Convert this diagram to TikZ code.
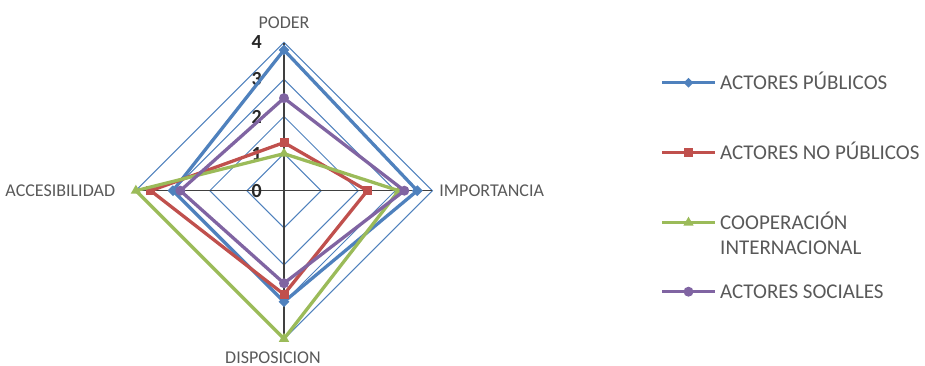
\documentclass[tikz,border=0pt]{standalone}
\usepackage{fontspec}
\setmainfont{Carlito}
\usetikzlibrary{positioning, shapes.geometric}
\definecolor{publicos}{HTML}{4F81BD}
\definecolor{nopublicos}{HTML}{C0504D}
\definecolor{cooperacion}{HTML}{9BBB59}
\definecolor{sociales}{HTML}{8064A2}
\definecolor{labelgray}{HTML}{595959}
\tikzset{
grid/.style={
	draw=publicos,
	line width=1pt,
},
spoke/.style={
	draw=black!75,
	line width=1.1pt,
},
serie/.style={
	line width=3.3pt,
	line join=round,
},
PUB/.style={
	draw=publicos,
},
NOPUB/.style={
	draw=nopublicos,
},
COOP/.style={
	draw=cooperacion,
},
SOC/.style={
	draw=sociales,
},
pubmark/.style={
	diamond,
	fill=publicos,
	inner sep=0pt,
	minimum size=11pt,
},
nopubmark/.style={
	rectangle,
	fill=nopublicos,
	inner sep=0pt,
	minimum size=9pt,
},
coopmark/.style={
	regular polygon,
	regular polygon sides=3,
	fill=cooperacion,
	inner sep=0pt,
	minimum size=12pt,
},
socmark/.style={
	circle,
	fill=sociales,
	inner sep=0pt,
	minimum size=10pt,
},
ticklabel/.style={
	font=\bfseries\fontsize{20}{20}\selectfont,
	text=black!85,
	inner sep=0pt,
	anchor=east,
	xshift=-22pt,
},
axislabel/.style={
	font=\fontsize{18}{20}\selectfont,
	text=labelgray,
	inner sep=1pt,
},
legtext/.style={
	font=\fontsize{21}{25}\selectfont,
	text=labelgray,
	inner sep=0pt,
}
}

\begin{document}
\begin{tikzpicture}[x=1pt, y=1pt]
		\useasboundingbox (-284,-175.3) rectangle (641,190.7);
		\begin{scope}[scale=37.1]
		% Grid
		\draw[grid] (0,1) -- (1,0) -- (0,-1) -- (-1,0) -- cycle;
		\draw[grid] (0,2) -- (2,0) -- (0,-2) -- (-2,0) -- cycle;
		\draw[grid] (0,3) -- (3,0) -- (0,-3) -- (-3,0) -- cycle;
		\draw[grid] (0,4) -- (4,0) -- (0,-4) -- (-4,0) -- cycle;
		
		% Axes
		\coordinate (O) at (0,0);
		\coordinate (axP) at (0,4);
		\coordinate (axI) at (4,0);
		\coordinate (axD) at (0,-4);
		\coordinate (axA) at (-4,0);
		\draw[spoke] (O) -- (axP);
		\draw[spoke] (O) -- (axI);
		\draw[spoke] (O) -- (axD);
		\draw[spoke] (O) -- (axA);
		
		% Scale
		\node[ticklabel] (t0) at (0,0) {0};
		\node[ticklabel] (t1) at (0,1) {1};
		\node[ticklabel] (t2) at (0,2) {2};
		\node[ticklabel] (t3) at (0,3) {3};
		\node[ticklabel] (t4) at (0,4) {4};
		
		% Axis labels
		\node[axislabel, above = 13pt of axP] (lblP) {PODER};
		\node[axislabel, right = 6pt of axI] (lblI) {IMPORTANCIA};
		\node[axislabel, below = 11.6pt of axD, xshift=-11pt] (lblD) {DISPOSICION};
		\node[axislabel, left = 19.6pt of axA] (lblA) {ACCESIBILIDAD};
		
		% Actores publicos
		\coordinate (pubP) at (0,3.8);
		\coordinate (pubI) at (3.6,0);
		\coordinate (pubD) at (0,-3.0);
		\coordinate (pubA) at (-3.0,0);
		\draw[serie, PUB] (pubP) -- (pubI) -- (pubD) -- (pubA) -- cycle;
		\node[pubmark] (pubPm) at (pubP) {};
		\node[pubmark] (pubIm) at (pubI) {};
		\node[pubmark] (pubDm) at (pubD) {};
		\node[pubmark] (pubAm) at (pubA) {};
		
		% Actores no publicos
		\coordinate (nopubP) at (0,1.3);
		\coordinate (nopubI) at (2.25,0);
		\coordinate (nopubD) at (0,-2.8);
		\coordinate (nopubA) at (-3.6,0);
		\draw[serie, NOPUB] (nopubP) -- (nopubI) -- (nopubD) -- (nopubA) -- cycle;
		\node[nopubmark] (nopubPm) at (nopubP) {};
		\node[nopubmark] (nopubIm) at (nopubI) {};
		\node[nopubmark] (nopubDm) at (nopubD) {};
		\node[nopubmark] (nopubAm) at (nopubA) {};
		
		% Cooperacion internacional
		\coordinate (coopP) at (0,1.0);
		\coordinate (coopI) at (3.1,0);
		\coordinate (coopD) at (0,-4.0);
		\coordinate (coopA) at (-4.0,0);
		\draw[serie, COOP] (coopP) -- (coopI) -- (coopD) -- (coopA) -- cycle;
		\node[coopmark] (coopPm) at (coopP) {};
		\node[coopmark] (coopIm) at (coopI) {};
		\node[coopmark] (coopDm) at (coopD) {};
		\node[coopmark] (coopAm) at (coopA) {};
		
		% Actores sociales
		\coordinate (socP) at (0,2.5);
		\coordinate (socI) at (3.25,0);
		\coordinate (socD) at (0,-2.5);
		\coordinate (socA) at (-2.8,0);
		\draw[serie, SOC] (socP) -- (socI) -- (socD) -- (socA) -- cycle;
		\node[socmark] (socPm) at (socP) {};
		\node[socmark] (socIm) at (socI) {};
		\node[socmark] (socDm) at (socD) {};
		\node[socmark] (socAm) at (socA) {};
		\end{scope}
		
		% Legend
		\coordinate (legPubA) at (378,108);
		\coordinate[right = 53pt of legPubA] (legPubB);
		\draw[serie, PUB] (legPubA) -- node[pubmark] (legPubM) {} (legPubB);
		\node[legtext, right = 5pt of legPubB, anchor=base west, yshift=-6.6pt] (legPub) {ACTORES PÚBLICOS};
		
		\coordinate (legNopubA) at (378,38);
		\coordinate[right = 53pt of legNopubA] (legNopubB);
		\draw[serie, NOPUB] (legNopubA) -- node[nopubmark] (legNopubM) {} (legNopubB);
		\node[legtext, right = 5pt of legNopubB, anchor=base west, yshift=-6.6pt] (legNopub) {ACTORES NO PÚBLICOS};
		
		\coordinate (legCoopA) at (378,-32);
		\coordinate[right = 53pt of legCoopA] (legCoopB);
		\draw[serie, COOP] (legCoopA) -- node[coopmark] (legCoopM) {} (legCoopB);
		\node[legtext, right = 5pt of legCoopB, anchor=base west, yshift=-6.6pt] (legCoop) {COOPERACIÓN};
		\node[legtext, anchor=base west] (legCoop2) at ([yshift=-25.6pt]legCoop.base west) {INTERNACIONAL};
		
		\coordinate (legSocA) at (378,-101);
		\coordinate[right = 53pt of legSocA] (legSocB);
		\draw[serie, SOC] (legSocA) -- node[socmark] (legSocM) {} (legSocB);
		\node[legtext, right = 5pt of legSocB, anchor=base west, yshift=-6.6pt] (legSoc) {ACTORES SOCIALES};
	\end{tikzpicture}
\end{document}
